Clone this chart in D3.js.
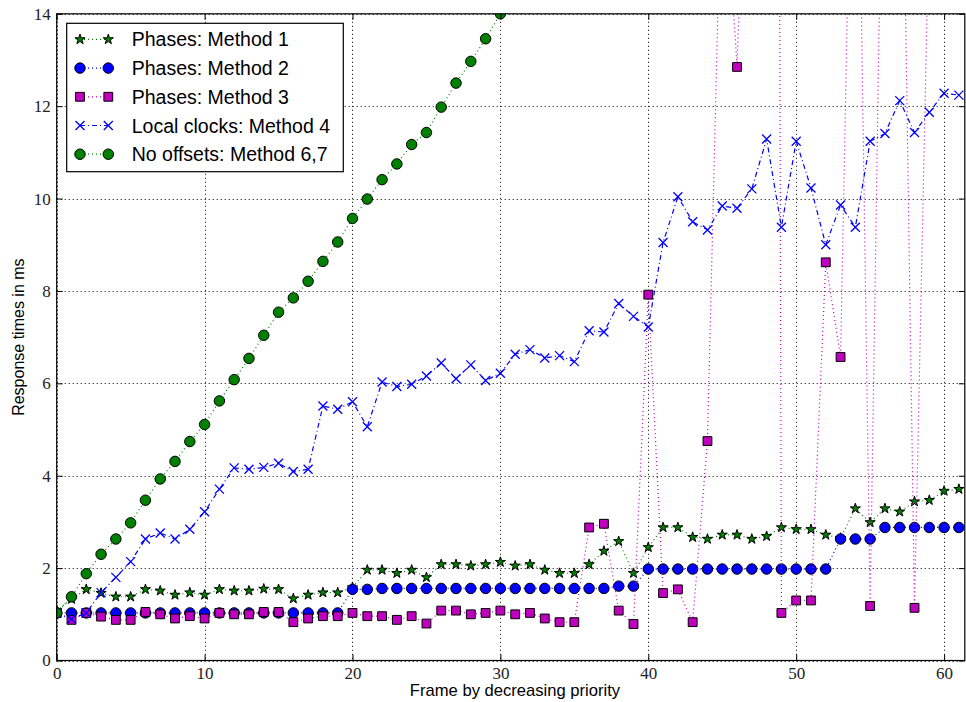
<!DOCTYPE html>
<html>
<head>
<meta charset="utf-8">
<script src="https://cdn.jsdelivr.net/npm/d3@7"></script>
<style>
  body { margin: 0; background: #fff; }
  svg { display: block; }
</style>
</head>
<body>
<svg id="chart" width="966" height="702"></svg>
<script>
// Frame index (decreasing priority)
const frames = [0,1,2,3,4,5,6,7,8,9,10,11,12,13,14,15,16,17,18,19,20,21,22,23,24,25,26,27,28,29,
  30,31,32,33,34,35,36,37,38,39,40,41,42,43,44,45,46,47,48,49,50,51,52,53,54,55,56,57,58,59,60,61];

// Response times in ms per method
const method1 = [1.08,1.33,1.54,1.46,1.38,1.38,1.54,1.51,1.42,1.47,1.42,1.54,1.51,1.51,1.55,1.54,1.34,1.42,1.47,1.47,
  1.58,1.96,1.96,1.89,1.96,1.80,2.08,2.08,2.05,2.08,2.13,2.05,2.08,1.96,1.89,1.89,2.08,2.37,2.58,1.89,
  2.45,2.88,2.88,2.67,2.63,2.72,2.72,2.63,2.69,2.88,2.84,2.84,2.72,2.65,3.29,2.99,3.29,3.22,3.44,3.47,3.67,3.71];
const method2 = [1.03,1.03,1.03,1.03,1.03,1.03,1.03,1.03,1.03,1.03,1.03,1.03,1.03,1.03,1.03,1.03,1.03,1.03,1.03,1.03,
  1.54,1.54,1.56,1.56,1.56,1.56,1.56,1.56,1.56,1.56,1.56,1.56,1.56,1.56,1.56,1.56,1.56,1.56,1.61,1.61,
  1.98,1.98,1.98,1.98,1.98,1.98,1.98,1.98,1.98,1.98,1.98,1.98,1.98,2.63,2.63,2.63,2.88,2.88,2.88,2.88,2.88,2.88];
const method3 = [1.03,0.88,1.03,0.95,0.88,0.88,1.05,1.00,0.91,0.96,0.91,1.03,1.00,1.00,1.05,1.05,0.83,0.91,0.96,0.96,
  1.03,0.96,0.96,0.88,0.96,0.80,1.08,1.08,1.00,1.03,1.08,1.00,1.03,0.91,0.83,0.83,2.88,2.96,1.08,0.79,
  7.92,1.46,1.54,0.83,4.75,18.0,12.85,22.0,120.0,1.03,1.30,1.30,8.62,6.57,23.0,1.18,22.0,22.5,1.14,16.4,20.0,21.0];
const method4 = [1.03,0.90,1.03,1.47,1.80,2.14,2.63,2.76,2.63,2.84,3.22,3.71,4.17,4.14,4.18,4.27,4.09,4.14,5.51,5.44,
  5.60,5.06,6.03,5.93,5.98,6.16,6.44,6.10,6.40,6.06,6.22,6.63,6.73,6.55,6.60,6.47,7.14,7.11,7.73,7.45,
  7.22,9.05,10.04,9.50,9.32,9.84,9.79,10.21,11.29,9.38,11.24,10.23,9.00,9.86,9.38,11.24,11.41,12.12,11.43,11.87,12.28,12.24];
const method67 = [1.03,1.38,1.88,2.30,2.63,2.98,3.47,3.93,4.31,4.74,5.11,5.62,6.08,6.54,7.04,7.54,7.85,8.21,8.64,9.06,
  9.57,9.99,10.41,10.75,11.17,11.43,11.98,12.50,12.97,13.46,14.00];

const xTicks = [0,10,20,30,40,50,60];
const yTicks = [0,2,4,6,8,10,12,14];
const seriesNames = ["Phases: Method 1","Phases: Method 2","Phases: Method 3","Local clocks: Method 4","No offsets: Method 6,7"];

const series = [
  { name: seriesNames[0], values: method1,  color: "#008000", marker: "star",   dash: "1,3" },
  { name: seriesNames[1], values: method2,  color: "#0000ff", marker: "circle", dash: "1,3" },
  { name: seriesNames[2], values: method3,  color: "#bf00bf", marker: "square", dash: "1,3" },
  { name: seriesNames[3], values: method4,  color: "#0000ff", marker: "x",      dash: "5,3,1,3" },
  { name: seriesNames[4], values: method67, color: "#008000", marker: "circle", dash: "1,3" }
];

const svg = d3.select("#chart");
const pLeft = 56.7, pRight = 964.8, pTop = 13.8, pBottom = 660.5;

const x = d3.scaleLinear().domain([0, 61.4]).range([pLeft, pRight]);
const y = d3.scaleLinear().domain([0, 14]).range([pBottom, pTop]);

svg.append("rect").attr("width", 966).attr("height", 702).attr("fill", "#fff");

svg.append("defs").append("clipPath").attr("id", "plotClip")
  .append("rect").attr("x", pLeft).attr("y", pTop).attr("width", pRight - pLeft).attr("height", pBottom - pTop);

// grid
const grid = svg.append("g").attr("stroke", "#000").attr("stroke-width", 1).attr("stroke-dasharray", "1,3");
grid.selectAll(".gx").data(xTicks).join("line")
  .attr("x1", d => Math.round(x(d)) + 0.5).attr("x2", d => Math.round(x(d)) + 0.5)
  .attr("y1", pTop).attr("y2", pBottom);
grid.selectAll(".gy").data(yTicks).join("line")
  .attr("y1", d => Math.round(y(d)) + 0.5).attr("y2", d => Math.round(y(d)) + 0.5)
  .attr("x1", pLeft).attr("x2", pRight);

// markers
function markerPath(type) {
  if (type === "star") return d3.symbol(d3.symbolStar, 32)();
  if (type === "circle") return d3.symbol(d3.symbolCircle, 86)();
  if (type === "square") return d3.symbol(d3.symbolSquare, 78)();
  return "M-4.5,-4.5L4.5,4.5M-4.5,4.5L4.5,-4.5";
}
function drawMarker(sel, s) {
  sel.attr("d", markerPath(s.marker));
  if (s.marker === "x") {
    sel.attr("fill", "none").attr("stroke", s.color).attr("stroke-width", 1.3);
  } else {
    sel.attr("fill", s.color).attr("stroke", "#000").attr("stroke-width", 1);
  }
}

const plot = svg.append("g").attr("clip-path", "url(#plotClip)");
const line = d3.line().x((d, i) => x(frames[i])).y(d => y(d));

series.forEach(s => {
  const g = plot.append("g");
  g.append("path").attr("d", line(s.values))
    .attr("fill", "none").attr("stroke", s.color).attr("stroke-width", 1.2)
    .attr("stroke-dasharray", s.dash);
  g.selectAll("path.m").data(s.values).join("path").attr("class", "m")
    .attr("transform", (d, i) => `translate(${x(frames[i])},${y(d)})`)
    .call(drawMarker, s);
});

// frame
svg.append("rect").attr("x", pLeft).attr("y", pTop).attr("width", pRight - pLeft).attr("height", pBottom - pTop)
  .attr("fill", "none").attr("stroke", "#000").attr("stroke-width", 1.2);

// axes with inward ticks
const tickFont = "'Liberation Serif', 'Times New Roman', serif";
const axB = svg.append("g").attr("transform", `translate(0,${pBottom})`)
  .call(d3.axisBottom(x).tickValues(xTicks).tickSize(-6).tickPadding(5));
const axT = svg.append("g").attr("transform", `translate(0,${pTop})`)
  .call(d3.axisTop(x).tickValues(xTicks).tickSize(-6).tickFormat(""));
const axL = svg.append("g").attr("transform", `translate(${pLeft},0)`)
  .call(d3.axisLeft(y).tickValues(yTicks).tickSize(-6).tickPadding(6));
const axR = svg.append("g").attr("transform", `translate(${pRight},0)`)
  .call(d3.axisRight(y).tickValues(yTicks).tickSize(-6).tickFormat(""));
[axB, axT, axL, axR].forEach(a => {
  a.select(".domain").remove();
  a.selectAll("line").attr("stroke", "#000");
  a.selectAll("text").attr("font-family", tickFont).attr("font-size", 17).attr("fill", "#222");
});
axB.selectAll("text").attr("dy", "0.78em");

// axis titles
const sans = "'Liberation Sans', Arial, Helvetica, sans-serif";
svg.append("text").attr("x", 515).attr("y", 696)
  .attr("text-anchor", "middle").attr("font-family", sans).attr("font-size", 16.6)
  .text("Frame by decreasing priority");
svg.append("text").attr("transform", `translate(24,${(pTop + pBottom) / 2}) rotate(-90)`)
  .attr("text-anchor", "middle").attr("font-family", sans).attr("font-size", 16)
  .text("Response times in ms");

// legend
const lg = svg.append("g");
lg.append("rect").attr("x", 66.7).attr("y", 23.3).attr("width", 276.6).attr("height", 148.4)
  .attr("fill", "#fff").attr("stroke", "#000").attr("stroke-width", 1.2);
series.forEach((s, i) => {
  const ry = 39.4 + i * 28.7;
  lg.append("line").attr("x1", 80).attr("x2", 108.3).attr("y1", ry).attr("y2", ry)
    .attr("stroke", s.color).attr("stroke-width", 1.2).attr("stroke-dasharray", s.dash);
  [80, 108.3].forEach(mx => {
    lg.append("path").attr("transform", `translate(${mx},${ry})`).call(drawMarker, s);
  });
  lg.append("text").attr("x", 131.7).attr("y", ry).attr("dy", "0.36em")
    .attr("font-family", sans).attr("font-size", 19.5).text(s.name);
});
</script>
</body>
</html>
